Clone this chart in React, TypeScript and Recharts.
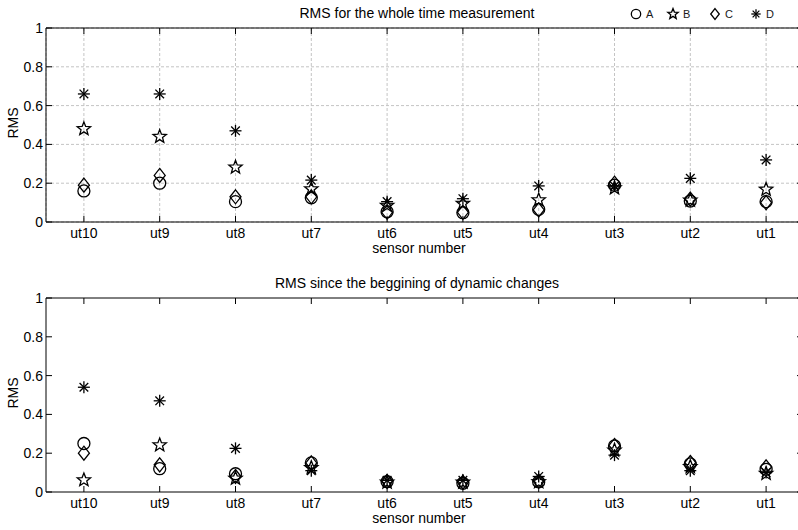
import React from 'react';
import { ScatterChart, Scatter, XAxis, YAxis, CartesianGrid, Legend, Label } from 'recharts';

// ---------- data ----------
const sensors = ['ut10', 'ut9', 'ut8', 'ut7', 'ut6', 'ut5', 'ut4', 'ut3', 'ut2', 'ut1'];
const sensorPos = [1, 2, 3, 4, 5, 6, 7, 8, 9, 10];
const xDomain = [0.5, 10.5];
const yDomain = [0, 1];
const yTicks = [0, 0.2, 0.4, 0.6, 0.8, 1];
const seriesNames = ['A', 'B', 'C', 'D'];

// RMS for the whole time measurement
const wholeA = [0.16, 0.2, 0.105, 0.125, 0.053, 0.048, 0.065, 0.19, 0.108, 0.105];
const wholeB = [0.48, 0.44, 0.282, 0.17, 0.085, 0.095, 0.113, 0.175, 0.112, 0.168];
const wholeC = [0.19, 0.24, 0.13, 0.13, 0.05, 0.05, 0.062, 0.2, 0.118, 0.1];
const wholeD = [0.66, 0.66, 0.47, 0.216, 0.105, 0.12, 0.186, 0.185, 0.225, 0.32];

// RMS since the beggining of dynamic changes
const dynA = [0.25, 0.12, 0.094, 0.15, 0.053, 0.045, 0.052, 0.237, 0.145, 0.117];
const dynB = [0.062, 0.242, 0.07, 0.125, 0.05, 0.05, 0.052, 0.215, 0.13, 0.095];
const dynC = [0.2, 0.14, 0.08, 0.15, 0.055, 0.05, 0.056, 0.24, 0.152, 0.13];
const dynD = [0.54, 0.47, 0.225, 0.11, 0.06, 0.06, 0.08, 0.19, 0.11, 0.1];

const titles = ['RMS for the whole time measurement', 'RMS since the beggining of dynamic changes'];
const xLabel = 'sensor number';
const yLabel = 'RMS';

const toPoints = (vals: number[]) => vals.map((v, i) => ({ x: sensorPos[i], y: v }));

// ---------- markers ----------
const SW = 1.3;
const starPts = (cx: number, cy: number, R: number, r: number) => {
  const pts: string[] = [];
  for (let i = 0; i < 10; i++) {
    const a = -Math.PI / 2 + (i * Math.PI) / 5;
    const rad = i % 2 === 0 ? R : r;
    pts.push(`${cx + rad * Math.cos(a)},${cy + rad * Math.sin(a)}`);
  }
  return pts.join(' ');
};
const drawCircle = (cx: number, cy: number, s: number) => (
  <circle cx={cx} cy={cy} r={6 * s} fill="none" stroke="#000" strokeWidth={SW} />
);
const drawStar = (cx: number, cy: number, s: number) => (
  <polygon points={starPts(cx, cy, 7 * s, 3 * s)} fill="none" stroke="#000" strokeWidth={SW} strokeLinejoin="miter" />
);
const drawDiamond = (cx: number, cy: number, s: number) => (
  <polygon
    points={`${cx},${cy - 7 * s} ${cx + 5.5 * s},${cy} ${cx},${cy + 7 * s} ${cx - 5.5 * s},${cy}`}
    fill="none"
    stroke="#000"
    strokeWidth={SW}
  />
);
const drawAsterisk = (cx: number, cy: number, s: number) => {
  const r = 6 * s;
  const d = r * 0.72;
  return (
    <g stroke="#000" strokeWidth={SW}>
      <line x1={cx} y1={cy - r} x2={cx} y2={cy + r} />
      <line x1={cx - r} y1={cy} x2={cx + r} y2={cy} />
      <line x1={cx - d} y1={cy - d} x2={cx + d} y2={cy + d} />
      <line x1={cx - d} y1={cy + d} x2={cx + d} y2={cy - d} />
    </g>
  );
};
const drawers = [drawCircle, drawStar, drawDiamond, drawAsterisk];
const shapeFor = (k: number) => (p: any) => <g>{drawers[k](p.cx, p.cy, 1)}</g>;

// ---------- legend ----------
const FONT = '"Liberation Sans", Arial, sans-serif';
const LegendContent = () => {
  const xs = [10, 47, 89, 130];
  return (
    <svg width={170} height={20} style={{ display: 'block' }}>
      {seriesNames.map((n, i) => (
        <g key={n}>
          {drawers[i](xs[i], 10, 0.78)}
          <text x={xs[i] + 10} y={14} fontSize={11} fill="#1a1a1a" fontFamily={FONT}>
            {n}
          </text>
        </g>
      ))}
    </svg>
  );
};

// ---------- labels / ticks ----------
const titleContent = (text: string) => (props: any) => {
  const vb = props.viewBox || {};
  return (
    <text x={vb.x + vb.width / 2 - 8} y={vb.y - 8} textAnchor="middle" fontSize={14} fill="#000" fontFamily={FONT}>
      {text}
    </text>
  );
};
const xLabelContent = (props: any) => {
  const vb = props.viewBox || {};
  return (
    <text x={vb.x + vb.width / 2 - 6} y={vb.y + 31} textAnchor="middle" fontSize={14} fill="#000" fontFamily={FONT}>
      {xLabel}
    </text>
  );
};
const yLabelContent = (props: any) => {
  const vb = props.viewBox || {};
  const x = vb.x + 18;
  const y = vb.y + vb.height / 2 - 2;
  return (
    <text x={x} y={y} textAnchor="middle" fontSize={14} fill="#000" fontFamily={FONT} transform={`rotate(-90, ${x}, ${y})`}>
      {yLabel}
    </text>
  );
};

const TL = 6; // inward tick length
const BottomTick = (p: any) => {
  const axisY = p.y - 6;
  return (
    <g>
      <line x1={p.x} y1={axisY} x2={p.x} y2={axisY - TL} stroke="#000" strokeWidth={1} />
      <text x={p.x} y={p.y + 10} textAnchor="middle" fontSize={14} fill="#000" fontFamily={FONT}>
        {sensors[p.payload.value - 1]}
      </text>
    </g>
  );
};
const TopTick = (p: any) => <line x1={p.x} y1={p.y} x2={p.x} y2={p.y + TL} stroke="#000" strokeWidth={1} />;
const LeftTick = (p: any) => {
  const axisX = p.x + 3;
  return (
    <g>
      <line x1={axisX} y1={p.y} x2={axisX + TL} y2={p.y} stroke="#000" strokeWidth={1} />
      <text x={p.x} y={p.y + 5} textAnchor="end" fontSize={14} fill="#000" fontFamily={FONT}>
        {p.payload.value}
      </text>
    </g>
  );
};
const RightTick = (p: any) => <line x1={p.x} y1={p.y} x2={p.x - TL - 1} y2={p.y} stroke="#000" strokeWidth={1} />;

const lineStyle = { stroke: '#000', strokeWidth: 1 };

type PanelProps = { title: string; series: number[][]; grid: boolean; legend: boolean };

const Panel = ({ title, series, grid, legend }: PanelProps) => (
  <ScatterChart width={812} height={262} margin={{ top: 26, right: 6, bottom: 0, left: 0 }} style={{ fontFamily: FONT }}>
    {grid && <CartesianGrid stroke="#c4c4c4" strokeDasharray="3 2" strokeWidth={1} />}
    <XAxis
      type="number"
      dataKey="x"
      domain={xDomain}
      ticks={sensorPos}
      interval={0}
      height={40}
      tickSize={0}
      tickMargin={6}
      tick={BottomTick}
      axisLine={lineStyle}
      tickLine={false}
      allowDataOverflow
    >
      <Label content={xLabelContent} />
    </XAxis>
    <XAxis
      xAxisId="top"
      orientation="top"
      type="number"
      dataKey="x"
      domain={xDomain}
      ticks={sensorPos}
      interval={0}
      height={2}
      tickSize={0}
      tickMargin={0}
      tick={TopTick}
      axisLine={lineStyle}
      tickLine={false}
      allowDataOverflow
    >
      <Label content={titleContent(title)} />
    </XAxis>
    <YAxis
      type="number"
      dataKey="y"
      domain={yDomain}
      ticks={yTicks}
      interval={0}
      width={46}
      tickSize={0}
      tickMargin={3}
      tick={LeftTick}
      axisLine={lineStyle}
      tickLine={false}
      allowDataOverflow
    >
      <Label content={yLabelContent} />
    </YAxis>
    <YAxis
      yAxisId="right"
      orientation="right"
      type="number"
      dataKey="y"
      domain={yDomain}
      ticks={yTicks}
      interval={0}
      width={2}
      tickSize={0}
      tickMargin={0}
      tick={RightTick}
      axisLine={lineStyle}
      tickLine={false}
      allowDataOverflow
    />
    {series.map((vals, k) => (
      <Scatter
        key={seriesNames[k]}
        name={seriesNames[k]}
        data={toPoints(vals)}
        shape={shapeFor(k)}
        xAxisId={k === 3 ? 'top' : 0}
        yAxisId={k === 3 ? 'right' : 0}
        isAnimationActive={false}
      />
    ))}
    {legend && (
      <Legend
        layout="vertical"
        verticalAlign="middle"
        align="center"
        wrapperStyle={{ top: 4, left: 626, width: 170, height: 20 }}
        content={LegendContent}
      />
    )}
  </ScatterChart>
);

export default function App() {
  return (
    <div
      style={{
        position: 'absolute',
        left: 0,
        top: 0,
        width: 798,
        height: 530,
        overflow: 'hidden',
        background: '#fff',
        fontFamily: FONT,
      }}
    >
      <div style={{ position: 'absolute', left: 0, top: 0 }}>
        <Panel title={titles[0]} series={[wholeA, wholeB, wholeC, wholeD]} grid legend />
      </div>
      <div style={{ position: 'absolute', left: 0, top: 270 }}>
        <Panel title={titles[1]} series={[dynA, dynB, dynC, dynD]} grid={false} legend={false} />
      </div>
    </div>
  );
}
